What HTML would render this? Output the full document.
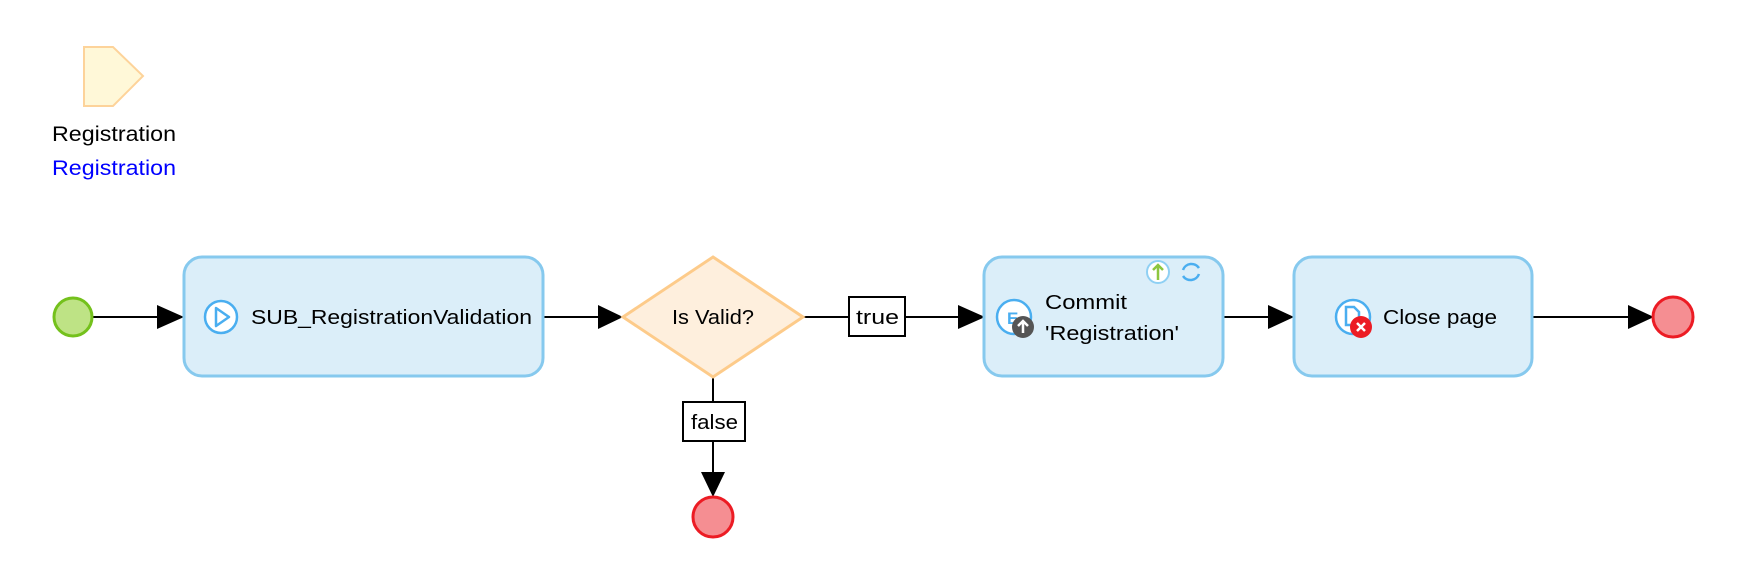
<!DOCTYPE html>
<html><head><meta charset="utf-8"><style>
body{margin:0;background:#fff;width:1756px;height:562px;overflow:hidden}
svg{display:block}
text{font-family:"Liberation Sans",sans-serif;font-size:20px;fill:#000}
</style></head><body>
<svg width="1756" height="562" viewBox="0 0 1756 562">
<polygon points="84,47 113,47 143,76 113,106 84,106" fill="#fff8d8" stroke="#fdd39a" stroke-width="2"/>
<text x="52" y="141" style="font-size:21px" textLength="124" lengthAdjust="spacingAndGlyphs">Registration</text>
<text x="52" y="175" style="font-size:21px;fill:#0000ff" textLength="124" lengthAdjust="spacingAndGlyphs">Registration</text>

<g stroke="#000" stroke-width="2">
<line x1="93" y1="317" x2="160" y2="317"/>
<line x1="543" y1="317" x2="600" y2="317"/>
<line x1="804" y1="317" x2="960" y2="317"/>
<line x1="1223" y1="317" x2="1270" y2="317"/>
<line x1="1532" y1="317" x2="1630" y2="317"/>
<line x1="713" y1="377" x2="713" y2="475"/>
</g>
<g fill="#000">
<polygon points="157,305 184,317 157,329"/>
<polygon points="598,305 623,317 598,329"/>
<polygon points="958,305 985,317 958,329"/>
<polygon points="1268,305 1294,317 1268,329"/>
<polygon points="1628,305 1654,317 1628,329"/>
<polygon points="701,472 725,472 713,497"/>
</g>

<circle cx="73" cy="317" r="19" fill="#bee385" stroke="#74c11c" stroke-width="3"/>
<circle cx="1673" cy="317" r="20" fill="#f58e92" stroke="#ec1c24" stroke-width="3"/>
<circle cx="713" cy="517" r="20" fill="#f58e92" stroke="#ec1c24" stroke-width="3"/>

<rect x="184" y="257" width="359" height="119" rx="18" fill="#dbeef9" stroke="#86c9ee" stroke-width="3"/>
<rect x="984" y="257" width="239" height="119" rx="18" fill="#dbeef9" stroke="#86c9ee" stroke-width="3"/>
<rect x="1294" y="257" width="238" height="119" rx="18" fill="#dbeef9" stroke="#86c9ee" stroke-width="3"/>

<polygon points="713,257 803,317 713,377 623,317" fill="#feefdd" stroke="#fdcb8a" stroke-width="3"/>
<text x="672" y="324" textLength="82" lengthAdjust="spacingAndGlyphs">Is Valid?</text>

<rect x="849" y="297" width="56" height="39" fill="#fff" stroke="#000" stroke-width="2"/>
<text x="856" y="324" textLength="43" lengthAdjust="spacingAndGlyphs">true</text>
<rect x="683" y="402" width="62" height="39" fill="#fff" stroke="#000" stroke-width="2"/>
<text x="691" y="429" textLength="47" lengthAdjust="spacingAndGlyphs">false</text>

<circle cx="221" cy="317" r="16" fill="#fff" stroke="#4aaef0" stroke-width="2.5"/>
<polygon points="216,308 229,317 216,326" fill="none" stroke="#4aaef0" stroke-width="2.5" stroke-linejoin="round"/>
<text x="251" y="324" textLength="281" lengthAdjust="spacingAndGlyphs">SUB_RegistrationValidation</text>

<circle cx="1014" cy="317" r="17" fill="#fff" stroke="#4aaef0" stroke-width="2.5"/>
<text x="1007" y="324" style="font-size:17px;font-weight:bold;fill:#4aaef0">E</text>
<circle cx="1023" cy="327" r="11" fill="#555"/>
<path d="M1023,333 v-11 M1018,326 l5,-5 l5,5" stroke="#fff" stroke-width="2.5" fill="none"/>
<circle cx="1158" cy="272" r="11" fill="#fff" stroke="#8fd0f4" stroke-width="2"/>
<path d="M1158,280 v-14 M1153,270 l5,-5 l5,5" stroke="#8cc63f" stroke-width="2.5" fill="none"/>
<path d="M1183,270 a9,9 0 0 1 16,-2 M1199,274 a9,9 0 0 1 -16,2" stroke="#4aaef0" stroke-width="2.5" fill="none"/>
<text x="1045" y="309" textLength="82" lengthAdjust="spacingAndGlyphs">Commit</text>
<text x="1045" y="340" textLength="134" lengthAdjust="spacingAndGlyphs">'Registration'</text>

<circle cx="1353" cy="317" r="17" fill="#fff" stroke="#4aaef0" stroke-width="2.5"/>
<path d="M1346,307 h8 l5,5 v13 h-13 z" fill="none" stroke="#4aaef0" stroke-width="2.5"/>
<circle cx="1361" cy="327" r="11" fill="#ec1c24"/>
<path d="M1357,323 l8,8 M1365,323 l-8,8" stroke="#fff" stroke-width="2.5"/>
<text x="1383" y="324" textLength="114" lengthAdjust="spacingAndGlyphs">Close page</text>
</svg>
</body></html>
